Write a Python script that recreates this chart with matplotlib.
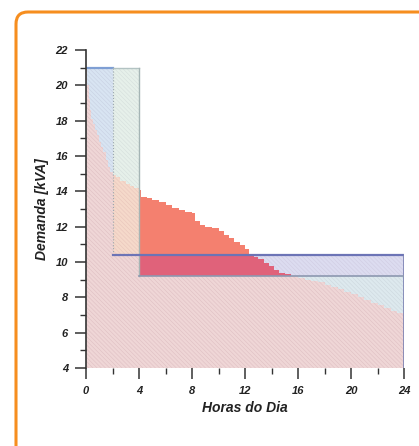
import matplotlib
matplotlib.use("Agg")
import matplotlib.pyplot as plt
import matplotlib.patches as mpatches
import matplotlib.transforms as mtransforms
from matplotlib.ticker import MultipleLocator
import numpy as np

# load duration curve (hours sorted by demand)
hours = [0, 0.1, 0.2, 0.3, 0.4, 0.5, 0.65, 0.8, 1.0, 1.15, 1.3, 1.5, 1.65, 1.8, 2.0, 2.3,
         2.6, 3.0, 3.3, 3.6, 4.0, 4.15, 4.6, 5.0, 5.5, 6.0, 6.5, 7.0, 7.5, 8.0, 8.25,
         8.6, 9.0, 9.5, 10.0, 10.4, 10.8, 11.2, 11.6, 12.0, 12.3, 12.7, 13.0, 13.4,
         13.8, 14.2, 14.6, 15.0, 15.5, 16.0, 16.5, 17.0, 17.5, 18.0, 18.5, 19.0,
         19.5, 20.0, 20.5, 21.0, 21.5, 22.0, 22.5, 23.0, 23.5, 24.0]
demand = [21.0, 20.0, 19.2, 18.6, 18.1, 17.8, 17.5, 17.2, 16.8, 16.5, 16.2, 15.8, 15.4, 15.1, 14.9, 14.8,
          14.6, 14.4, 14.3, 14.2, 14.1, 13.7, 13.6, 13.5, 13.4, 13.2, 13.05, 12.95, 12.85, 12.75, 12.3,
          12.1, 12.0, 11.9, 11.75, 11.55, 11.35, 11.15, 10.95, 10.75, 10.45, 10.3, 10.15, 9.95,
          9.75, 9.55, 9.4, 9.3, 9.2, 9.1, 9.0, 8.95, 8.85, 8.7, 8.6, 8.45,
          8.3, 8.2, 8.0, 7.85, 7.7, 7.55, 7.4, 7.25, 7.1, 7.0]

peak_level = 21.0
peak_end = 2
shift_end = 4
band_top = 10.4
band_bottom = 9.2

h = np.array(hours)
d = np.array(demand)

plt.rcParams['font.family'] = ['Liberation Sans', 'DejaVu Sans']
plt.rcParams['hatch.linewidth'] = 0.4

fig = plt.figure(figsize=(4.19, 4.46), dpi=100)
ax = fig.add_axes([86/419, 1-368/446, 318/419, 318/446])

hatch = '\\\\\\\\\\\\\\\\'
first = h <= peak_end
second = (h >= peak_end) & (h <= shift_end)
rest = h >= shift_end

# base area below the curve
ax.fill_between(h, 4, d, step='post', facecolor='#efd6d6', edgecolor='#dfbfc3', hatch=hatch, lw=0)
# peak blocks above the curve
ax.fill_between(h[first], d[first], peak_level, step='post', facecolor='#d8e4f2', edgecolor='#c8d0e2', hatch=hatch, lw=0)
ax.fill_between(h[second], d[second], peak_level, step='post', facecolor='#e6f0ea', edgecolor='#d5dedc', hatch=hatch, lw=0)
ax.fill_between(h[second], band_top, d[second], step='post', facecolor='#f5d9ca', edgecolor='#e8c4bb', hatch=hatch, lw=0)
# shaved and shifted energy
hr, dr = h[rest], d[rest]
ax.fill_between(hr, band_top, np.maximum(dr, band_top), step='post', color='#f4806f', lw=0)
ax.fill_between(hr, band_bottom, np.clip(dr, band_bottom, band_top), step='post', color='#e0627a', lw=0)
ax.fill_between(hr, np.clip(dr, band_bottom, band_top), band_top, step='post', facecolor='#dcdcf0', edgecolor='#d0cce2', hatch=hatch, lw=0)
ax.fill_between(hr, np.minimum(dr, band_bottom), band_bottom, step='post', facecolor='#dde9ee', edgecolor='#cdd7de', hatch=hatch, lw=0)

# outlines
ax.plot([0, peak_end], [peak_level, peak_level], color='#7f9fd4', lw=1.6)
ax.plot([peak_end, shift_end], [peak_level, peak_level], color='#b3c3c3', lw=1.0)
ax.plot([shift_end, shift_end], [peak_level, band_bottom], color='#a5b5b5', lw=1.0)
ax.plot([peak_end, peak_end], [peak_level, band_top], color='#9aa6b0', lw=0.8, ls=':')
ax.plot([peak_end, 24], [band_top, band_top], color='#6c74b6', lw=1.6)
ax.plot([24, 24], [band_top, 4], color='#7a80b2', lw=1.2)
ax.plot([shift_end, 24], [band_bottom, band_bottom], color='#8c98b0', lw=1.2)

ax.set_xlim(0, 24)
ax.set_ylim(4, 22)
for s in ['top', 'right', 'bottom']:
    ax.spines[s].set_visible(False)
ax.spines['left'].set_color('#333333')
ax.spines['left'].set_linewidth(1.2)

ax.xaxis.set_major_locator(MultipleLocator(4))
ax.xaxis.set_minor_locator(MultipleLocator(2))
ax.yaxis.set_major_locator(MultipleLocator(2))
ax.yaxis.set_minor_locator(MultipleLocator(1))
ax.tick_params(which='major', direction='out', length=8, width=1.1, color='#333333', pad=5)
ax.tick_params(which='minor', direction='out', length=4, width=1.0, color='#333333')
for lab in ax.get_xticklabels() + ax.get_yticklabels():
    lab.set_fontsize(8)
    lab.set_fontweight('bold')
    lab.set_fontstyle('italic')
    lab.set_color('#222222')

ax.set_xlabel('Horas do Dia', fontsize=10, fontweight='bold', fontstyle='italic', color='#222222')
ax.set_ylabel('Demanda [kVA]', fontsize=10, fontweight='bold', fontstyle='italic', color='#222222')
ax.xaxis.set_label_coords(0.5, -0.105)
ax.yaxis.set_label_coords(-0.115, 0.5)

# orange frame round the figure
frame = mpatches.FancyBboxPatch((16, -60), 480, 494, boxstyle='round,pad=0,rounding_size=12',
                                transform=mtransforms.IdentityTransform(),
                                facecolor='none', edgecolor='#f68e1f', lw=2.2)
fig.add_artist(frame)

fig.savefig('out.png', dpi=100)
